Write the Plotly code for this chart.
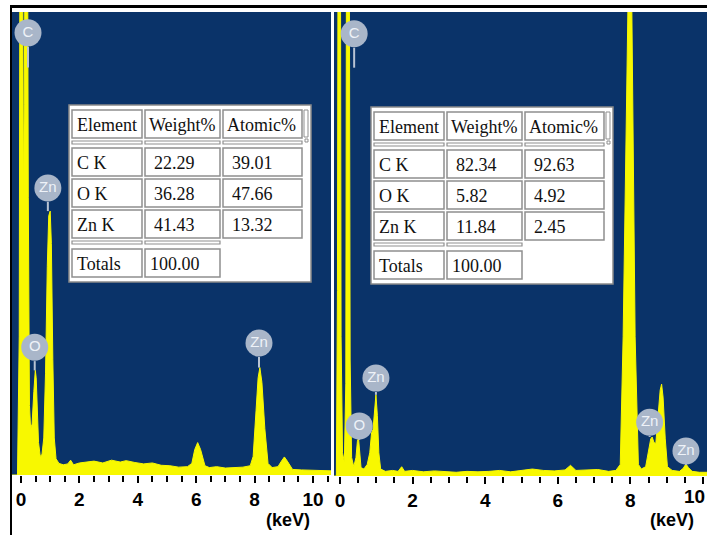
import plotly.graph_objects as go

W, H = 707, 535

# ---------------- data ----------------
left_kev = [-0.31, -0.12, -0.06, -0.02, 0.03, 0.08, 0.11, 0.15, 0.2, 0.25, 0.29, 0.33, 0.38, 0.44,
            0.49, 0.52, 0.55, 0.6, 0.66, 0.72, 0.78, 0.84, 0.9, 0.95, 1.0, 1.04, 1.09, 1.14, 1.2,
            1.3, 1.45, 1.6, 1.7, 1.8, 2.0, 2.2, 2.5, 2.8, 3.1, 3.4, 3.6, 3.9, 4.2, 4.5, 4.8, 5.1,
            5.4, 5.7, 5.85, 5.95, 6.05, 6.15, 6.3, 6.45, 6.7, 7.0, 7.3, 7.6, 7.85, 7.95, 8.05,
            8.12, 8.18, 8.25, 8.35, 8.46, 8.6, 8.8, 8.92, 9.02, 9.12, 9.3, 9.6, 10.0, 10.3, 10.62]
left_cnt = [0, 0, 30, 180, 180, 60, 80, 180, 180, 60, 15, 10, 11, 18,
            22.6, 21, 14, 7, 4, 4.5, 8, 22, 45, 56, 57, 50, 25, 8, 3.5,
            2.5, 2.2, 2.4, 3.2, 2.2, 2.6, 2.8, 3.0, 2.6, 3.2, 2.8, 3.1, 2.7, 2.4, 2.6, 2.1, 2.0,
            1.7, 1.8, 2.5, 5.5, 7.0, 5.5, 2.0, 1.6, 1.8, 1.5, 1.6, 1.7, 2.0, 4, 14,
            21, 23.2, 20, 10, 2.5, 1.6, 1.8, 3, 3.9, 3, 1.2, 1.1, 1.0, 0.9, 0.9]

right_kev = [-0.165, -0.1, -0.07, -0.04, 0.0, 0.03, 0.07, 0.12, 0.16, 0.19, 0.24, 0.28, 0.32, 0.38,
             0.44, 0.48, 0.51, 0.54, 0.58, 0.66, 0.75, 0.82, 0.87, 0.91, 0.95, 0.99, 1.03, 1.07,
             1.12, 1.25, 1.45, 1.6, 1.7, 1.78, 2.0, 2.3, 2.6, 2.9, 3.2, 3.5, 3.8, 4.1, 4.4, 4.7,
             5.0, 5.3, 5.6, 5.9, 6.2, 6.35, 6.5, 6.8, 7.1, 7.4, 7.6, 7.72, 7.8, 7.93, 7.985, 8.04,
             8.13, 8.22, 8.3, 8.42, 8.5, 8.56, 8.6, 8.65, 8.7, 8.76, 8.82, 8.86, 8.9, 8.96, 9.02,
             9.15, 9.35, 9.45, 9.53, 9.6, 9.7, 9.9, 10.11]
right_cnt = [0, 0, 40, 180, 180, 30, 5, 3, 20, 180, 180, 25, 4, 2,
             4, 7.5, 8.2, 6, 1.8, 1.5, 2.5, 5, 9.3, 10, 15, 17.5, 13, 5,
             1.5, 1.0, 1.2, 1.0, 2.0, 1.0, 1.2, 0.9, 1.1, 1.0, 0.8, 1.0, 0.9, 1.0, 1.2, 0.9,
             1.2, 1.5, 1.2, 1.1, 1.3, 2.3, 1.2, 1.3, 1.4, 1.0, 1.2, 2.5, 30, 100, 180, 100,
             30, 2.5, 1.5, 2, 5, 8.0, 8.4, 7.2, 7.0, 12, 18.5, 19.8, 17, 8, 2,
             1.2, 1.0, 1.6, 2.6, 1.8, 1.0, 0.8, 0.8]

left_lab_text = ["C", "Zn", "O", "Zn"]
left_lab_x = [0.24, 0.92, 0.47, 8.15]
left_lab_y = [95.5, 62.0, 27.6, 28.5]
left_stem_end = [88.0, 57.0, 22.6, 23.2]

right_lab_text = ["C", "O", "Zn", "Zn", "Zn"]
right_lab_x = [0.39, 0.53, 0.99, 8.53, 9.53]
right_lab_y = [95.3, 10.8, 21.1, 11.6, 5.4]
right_stem_end = [88.0, 8.2, 17.5, 8.4, 2.6]

tick_text = ["0", "2", "4", "6", "8", "10"]

tbl_header = ["Element", "Weight%", "Atomic%"]
tbl_elements = ["C K", "O K", "Zn K"]
left_weight = ["22.29", "36.28", "41.43"]
left_atomic = ["39.01", "47.66", "13.32"]
left_total = "100.00"
right_weight = ["82.34", "5.82", "11.84"]
right_atomic = ["92.63", "4.92", "2.45"]
right_total = "100.00"

# ---------------- style ----------------
BLUE = "#0a3369"
YELLOW = "#f8f800"
LABEL_BG = "#a9b6c9"
LABEL_FG = "#eef2f8"
STEM = "#b8c3d3"
TICKFONT = dict(family="Liberation Sans", size=19, color="black", weight="bold")

fig = go.Figure()


def add_panel(kev, cnt, lx, ly, lend, ltxt, xa, ya):
    fig.add_trace(go.Scatter(x=kev, y=cnt, mode="lines", fill="tozeroy",
                             line=dict(color=YELLOW, width=1), fillcolor=YELLOW,
                             xaxis=xa, yaxis=ya, hoverinfo="skip", showlegend=False))
    sx, sy = [], []
    for x, y, e in zip(lx, ly, lend):
        sx += [x, x, None]
        sy += [y - 3.0, e, None]
    fig.add_trace(go.Scatter(x=sx, y=sy, mode="lines", line=dict(color=STEM, width=2),
                             xaxis=xa, yaxis=ya, hoverinfo="skip", showlegend=False))
    fig.add_trace(go.Scatter(x=lx, y=ly, mode="markers+text", text=ltxt,
                             textposition="middle center",
                             textfont=dict(family="Liberation Sans", size=15, color=LABEL_FG),
                             marker=dict(size=27, color=LABEL_BG, line=dict(width=0)),
                             xaxis=xa, yaxis=ya, hoverinfo="skip", showlegend=False,
                             cliponaxis=False))


add_panel(left_kev, left_cnt, left_lab_x, left_lab_y, left_stem_end, left_lab_text, "x", "y")
add_panel(right_kev, right_cnt, right_lab_x, right_lab_y, right_stem_end, right_lab_text, "x2", "y2")

axis_common = dict(showgrid=False, zeroline=False, showline=False, ticks="outside",
                   ticklen=7, tickwidth=2, tickcolor="black",
                   tickvals=[0, 2, 4, 6, 8, 10], ticktext=tick_text,
                   tickfont=TICKFONT,
                   minor=dict(dtick=0.5, tick0=0, ticks="outside", ticklen=6, tickwidth=1.5,
                              tickcolor="black"),
                   fixedrange=True)

fig.update_layout(
    width=W, height=H, margin=dict(l=0, r=0, t=0, b=0),
    paper_bgcolor="white", plot_bgcolor=BLUE,
    xaxis=dict(domain=[12 / W, 331 / W], range=[-0.308, 10.616], anchor="y", **axis_common),
    yaxis=dict(domain=[1 - 475 / H, 1 - 12 / H], range=[0, 100], visible=False, fixedrange=True),
    xaxis2=dict(domain=[334 / W, 1.0], range=[-0.165, 10.11], anchor="y2", **axis_common),
    yaxis2=dict(domain=[1 - 476 / H, 1 - 12 / H], range=[0, 100], visible=False, fixedrange=True),
    showlegend=False,
)

shapes = []
annots = []


def px(x):
    return x / W


def py(y):
    return 1 - y / H


def rect(x0, y0, x1, y1, line="#8f8f8f", fill="white", width=1.5):
    shapes.append(dict(type="rect", xref="paper", yref="paper",
                       x0=px(x0), x1=px(x1), y0=py(y1), y1=py(y0),
                       line=dict(color=line, width=width), fillcolor=fill, layer="above"))


def text(x, y, s):
    annots.append(dict(xref="paper", yref="paper", x=px(x), y=py(y), text=s,
                       showarrow=False, xanchor="left", yanchor="middle",
                       font=dict(family="Liberation Serif", size=18, color="#111111")))


def add_table(ox, oy, weight, atomic, total):
    colx = [ox, ox + 73, ox + 151]
    colw = [70, 75, 79]
    rect(ox - 3, oy - 5, ox + 239, oy + 172, line="#8a8a8a", width=1.5)
    # header
    for i in range(3):
        rect(colx[i], oy, colx[i] + colw[i], oy + 28)
        text(colx[i] + (3 if i == 0 else 2), oy + 15, tbl_header[i])
    # scrollbar stub
    rect(ox + 232, oy, ox + 236, oy + 27, width=1)
    rect(ox + 233, oy + 29, ox + 236, oy + 32, width=1)
    # separator
    for i in range(3):
        rect(colx[i], oy + 31, colx[i] + colw[i], oy + 34, width=1.2)
    # rows
    for r in range(3):
        y0 = oy + 38 + r * 31
        vals = [tbl_elements[r], weight[r], atomic[r]]
        for i in range(3):
            rect(colx[i], y0, colx[i] + colw[i], y0 + 28)
            text(colx[i] + (3 if i == 0 else 7), y0 + 15, vals[i])
    # separator 2
    for i in range(2):
        rect(colx[i], oy + 131, colx[i] + colw[i], oy + 134, width=1.2)
    y0 = oy + 139
    rect(colx[0], y0, colx[0] + colw[0], y0 + 28)
    text(colx[0] + 3, y0 + 15, "Totals")
    rect(colx[1], y0, colx[1] + colw[1], y0 + 28)
    text(colx[1] + 3, y0 + 15, total)


add_table(72, 110, left_weight, left_atomic, left_total)
add_table(374, 112, right_weight, right_atomic, right_total)

# frame lines
shapes.append(dict(type="line", xref="paper", yref="paper", x0=px(10), x1=1.0, y0=py(6.5), y1=py(6.5),
                   line=dict(color="black", width=3), layer="above"))
shapes.append(dict(type="line", xref="paper", yref="paper", x0=px(11), x1=px(11), y0=py(5), y1=0,
                   line=dict(color="black", width=2), layer="above"))

# right-panel "10" label sits at the page edge (cut off in the original)
annots.append(dict(xref="paper", yref="paper", x=1.0, y=py(496), text=tick_text[-1],
                   showarrow=False, xanchor="right", yanchor="middle", font=TICKFONT))

for xc in (288, 672):
    annots.append(dict(xref="paper", yref="paper", x=px(xc), y=py(520), text="(keV)",
                       showarrow=False, xanchor="center", yanchor="middle",
                       font=dict(family="Liberation Sans", size=18, color="black", weight="bold")))

fig.update_layout(shapes=shapes, annotations=annots)
fig.write_html("out.html")
